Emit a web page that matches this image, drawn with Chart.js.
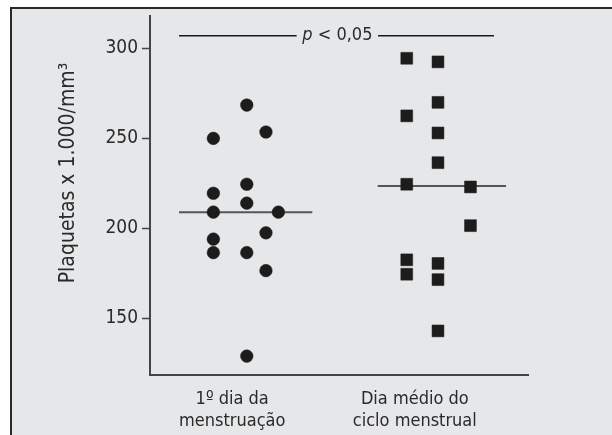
<!DOCTYPE html>
<html>
<head>
<meta charset="utf-8">
<script src="https://cdn.jsdelivr.net/npm/chart.js@4.4.1/dist/chart.umd.min.js"></script>
<style>
  html, body { margin: 0; padding: 0; background: #ffffff; }
  #wrap { position: relative; width: 612px; height: 435px; overflow: hidden; }
  #frame { position: absolute; left: 10px; top: 7px; width: 620px; height: 450px;
           background: #e6e7e9; border-top: 2px solid #2a2a2a; border-left: 2px solid #2a2a2a; }
  #box { position: absolute; left: 0; top: 0; width: 612px; height: 435px; }
</style>
</head>
<body>
<div id="wrap">
  <div id="frame"></div>
  <div id="box"><canvas id="c"></canvas></div>
</div>
<script>
// ---- data ----
const categories = [["1º dia da", "menstruação"], ["Dia médio do", "ciclo menstrual"]];
const categoryPos = [1, 2];
const yTicks = [150, 200, 250, 300];
const yTitle = "Plaquetas x 1.000/mm³";

// 1º dia da menstruação (circles): jitter column and value
const day1X      = [0.897, 0.897, 0.897, 0.897, 0.897, 1.080, 1.080, 1.080, 1.080, 1.080, 1.185, 1.185, 1.185, 1.253];
const day1Values = [250,   219.5, 209,   194,   186.5, 268.5, 224.5, 214,   186.5, 129,   253.5, 197.5, 176.5, 209];

// Dia médio do ciclo menstrual (squares)
const midX      = [1.956, 1.956, 1.956, 1.956, 1.956, 2.127, 2.127, 2.127, 2.127, 2.127, 2.127, 2.127, 2.305, 2.305];
const midValues = [294.5, 262.5, 224.5, 182.5, 174.5, 292.5, 270,   253,   236.5, 180.5, 171.5, 143,   223,   201.5];

const medians = [209, 223.5];
const medianSpans = [[0.709, 1.439], [1.797, 2.500]];

const pLabelItalic = "p";
const pLabelRest = " < 0,05";
const pLevel = 307;
const pLeftSpan = [0.709, 1.353];
const pRightSpan = [1.799, 2.434];

// ---- chart ----
const FAMILY = '"Liberation Sans Narrow", "Arial Narrow", "DejaVu Sans Condensed", "Liberation Sans", sans-serif';
Chart.defaults.font.family = FAMILY;
Chart.defaults.color = '#2a2a2a';

const toPts = (xs, ys) => xs.map((x, i) => ({ x: x, y: ys[i] }));
const seg = (span, y) => [{ x: span[0], y: y }, { x: span[1], y: y }];

const annot = {
  id: 'annot',
  afterDraw(chart) {
    const ctx = chart.ctx;
    const xs = chart.scales.x, ys = chart.scales.y;
    ctx.save();
    // y-axis title
    ctx.font = '21px ' + FAMILY;
    ctx.fillStyle = '#2a2a2a';
    ctx.translate(69, 173);
    ctx.rotate(-Math.PI / 2);
    ctx.textAlign = 'center';
    ctx.textBaseline = 'middle';
    ctx.fillText(yTitle, 0, 0);
    ctx.restore();

    // p-value label between the two segments
    ctx.save();
    const cx = (xs.getPixelForValue(pLeftSpan[1]) + xs.getPixelForValue(pRightSpan[0])) / 2;
    const cy = ys.getPixelForValue(pLevel);
    const fItal = 'italic 18px ' + FAMILY, fNorm = '18px ' + FAMILY;
    ctx.font = fItal; const w1 = ctx.measureText(pLabelItalic).width;
    ctx.font = fNorm; const w2 = ctx.measureText(pLabelRest).width;
    let x0 = cx - (w1 + w2) / 2;
    ctx.textBaseline = 'middle';
    ctx.textAlign = 'left';
    ctx.fillStyle = '#2a2a2a';
    ctx.font = fItal; ctx.fillText(pLabelItalic, x0, cy);
    ctx.font = fNorm; ctx.fillText(pLabelRest, x0 + w1, cy);
    ctx.restore();
  }
};

new Chart(document.getElementById('c'), {
  type: 'scatter',
  data: {
    datasets: [
      { data: toPts(day1X, day1Values), pointStyle: 'circle', pointRadius: 6.3, pointHoverRadius: 6.3,
        backgroundColor: '#1c1c1c', borderColor: '#1c1c1c', borderWidth: 0.5 },
      { data: toPts(midX, midValues), pointStyle: 'rect', pointRadius: 8.4, pointHoverRadius: 8.4,
        backgroundColor: '#1c1c1c', borderColor: '#1c1c1c', borderWidth: 0.5 },
      { data: seg(medianSpans[0], medians[0]), showLine: true, pointRadius: 0, borderColor: '#555555', borderWidth: 2 },
      { data: seg(medianSpans[1], medians[1]), showLine: true, pointRadius: 0, borderColor: '#555555', borderWidth: 2 },
      { data: seg(pLeftSpan, pLevel), showLine: true, pointRadius: 0, borderColor: '#1a1a1a', borderWidth: 1.5 },
      { data: seg(pRightSpan, pLevel), showLine: true, pointRadius: 0, borderColor: '#1a1a1a', borderWidth: 1.5 }
    ]
  },
  options: {
    responsive: true,
    maintainAspectRatio: false,
    animation: false,
    events: [],
    layout: { padding: { top: 16, right: 84, left: 0, bottom: 0 } },
    plugins: { legend: { display: false }, tooltip: { enabled: false } },
    scales: {
      x: {
        type: 'linear',
        min: 0.55, max: 2.62,
        afterBuildTicks(scale) { scale.ticks = categoryPos.map(v => ({ value: v })); },
        afterFit(scale) { scale.height = 60; },
        ticks: {
          callback(v) { const i = categoryPos.indexOf(v); return i >= 0 ? categories[i] : ''; },
          font: { size: 18, lineHeight: 1.2 },
          color: '#2a2a2a',
          padding: 6,
          maxRotation: 0, autoSkip: false
        },
        grid: { display: false },
        border: { display: true, color: '#444444', width: 2 }
      },
      y: {
        type: 'linear',
        min: 118.5, max: 318,
        afterBuildTicks(scale) { scale.ticks = yTicks.map(v => ({ value: v })); },
        afterFit(scale) { scale.width = 150; },
        ticks: { font: { size: 19 }, color: '#2a2a2a', padding: 4 },
        grid: { drawOnChartArea: false, drawTicks: true, tickLength: 8, tickColor: '#444444', tickWidth: 1.5 },
        border: { display: true, color: '#444444', width: 2 }
      }
    }
  },
  plugins: [annot]
});
</script>
</body>
</html>
